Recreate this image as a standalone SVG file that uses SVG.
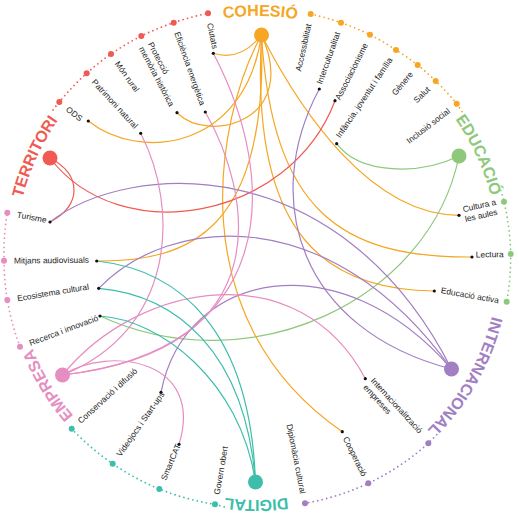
<svg xmlns="http://www.w3.org/2000/svg" xmlns:xlink="http://www.w3.org/1999/xlink" width="519" height="516" viewBox="0 0 519 516">
<style>
.lbl{font-family:"Liberation Sans",Arial,sans-serif;font-size:8.4px;fill:#222}
.cat{font-family:"Liberation Sans",Arial,sans-serif;font-size:16px;font-weight:bold}
.c{fill:none;stroke-width:1.2}
.dots{fill:none;stroke-width:1.8;stroke-linecap:round;stroke-dasharray:0 4.6}
.pin{fill:#111}
.or{stroke:#F6A623}.rd{stroke:#EF5B52}.gr{stroke:#8DC87B}.pu{stroke:#A27EC2}.te{stroke:#3DBEAB}.pk{stroke:#E68DC1}
.for{fill:#F6A623}.frd{fill:#EF5B52}.fgr{fill:#8DC87B}.fpu{fill:#A27EC2}.fte{fill:#3DBEAB}.fpk{fill:#E68DC1}
</style>
<defs>
<path id="ring" d="M136,467.58 A242,242 0 0 1 378,48.42 A242,242 0 0 1 136,467.58"/>
</defs>
<rect width="519" height="516" fill="#fff"/>

<g id="rings">
<path class="dots rd" d="M53.1,109.9 A251,251 0 0 1 59.3,102 A251,251 0 0 1 86.7,73.3 A251,251 0 0 1 111,54 A251,251 0 0 1 141.3,36 A251,251 0 0 1 173.7,22.7 A251,251 0 0 1 208,13.3"/>
<path class="dots or" d="M310.7,14 A251,251 0 0 1 341,22.7 A251,251 0 0 1 370,34.7 A251,251 0 0 1 396,50 A251,251 0 0 1 417.7,65 A251,251 0 0 1 435.7,81 A251,251 0 0 1 456.7,103.7 A251,251 0 0 1 462.1,111.7"/>
<path class="dots gr" d="M500.8,190.4 A253,253 0 0 1 504,201.7 A253,253 0 0 1 510.7,254 A253,253 0 0 1 506.7,301.7"/>
<path class="dots pu" d="M436.7,434.6 A252,252 0 0 1 428.3,443.3 A252,252 0 0 1 368.3,483.3 A252,252 0 0 1 305,503.3"/>
<path class="dots te" d="M224.2,506.9 A251,251 0 0 1 215,504.3 A251,251 0 0 1 159.3,489 A251,251 0 0 1 112.7,463.7 A251,251 0 0 1 71.7,428.7"/>
<path class="dots pk" d="M20,346.7 A253,253 0 0 1 7.3,300 A253,253 0 0 1 4,260.7 A253,253 0 0 1 7.3,212.7"/>
</g>

<g id="connectors">
<path class="c or" d="M213.3,53.3 Q240,62 261.5,35"/>
<path class="c or" d="M88.3,121 C140,162 245,150 261.5,35"/>
<path class="c or" d="M177,112.7 C210,145 300,120 261.5,35"/>
<path class="c or" d="M96.7,261 C190,262 268,230 261.5,35"/>
<path class="c or" d="M261.5,35 C215,120 180,320 342.3,431.7"/>
<path class="c or" d="M261.5,35 C300,110 370,215 459,215.3"/>
<path class="c or" d="M261.5,35 C272,210 340,258 472,257"/>
<path class="c or" d="M261.5,35 C250,240 330,290 434.3,291"/>
<path class="c rd" d="M50,158 C82,175 82,205 50,222"/>
<path class="c rd" d="M50,158 C120,250 290,220 335,100.7"/>
<path class="c gr" d="M336.7,143.7 C360,175 420,175 459,156"/>
<path class="c gr" d="M459,156 C430,300 250,385 100,316"/>
<path class="c pu" d="M50,222 C130,160 340,150 451.5,369"/>
<path class="c pu" d="M319.3,89 C260,200 300,330 451.5,369"/>
<path class="c pu" d="M98.7,288.3 C170,215 330,200 451.5,369"/>
<path class="c pu" d="M161,392.3 C185,270 340,240 451.5,369"/>
<path class="c pk" d="M140.7,133.3 C180,210 175,330 62.5,375"/>
<path class="c pk" d="M205.3,112 C250,190 285,350 62.5,375"/>
<path class="c pk" d="M213.3,53.3 C280,180 280,350 62.5,375"/>
<path class="c pk" d="M62.5,375 C140,280 300,255 365.3,378.7"/>
<path class="c pk" d="M62.5,375 C110,345 205,360 179,444.3"/>
<path class="c te" d="M96.7,261 C180,270 250,330 255.5,482"/>
<path class="c te" d="M98.7,288.3 C175,295 245,350 255.5,482"/>
<path class="c te" d="M100,316 C160,320 240,380 255.5,482"/>
</g>

<g id="cohesio"><circle class="for" cx="261.5" cy="35" r="7.5"/><text class="cat for"><textPath xlink:href="#ring" href="#ring" startOffset="636.5" text-anchor="middle">COHESIÓ</textPath></text></g>
<g id="territori"><circle class="frd" cx="50" cy="158" r="7.5"/><text class="cat frd"><textPath xlink:href="#ring" href="#ring" startOffset="356.9" text-anchor="middle">TERRITORI</textPath></text></g>
<g id="educacio"><circle class="fgr" cx="459" cy="156" r="7.5"/><text class="cat fgr"><textPath xlink:href="#ring" href="#ring" startOffset="908" text-anchor="middle">EDUCACIÓ</textPath></text></g>
<g id="internacional"><circle class="fpu" cx="451.5" cy="369" r="7.5"/><text class="cat fpu"><textPath xlink:href="#ring" href="#ring" startOffset="1138.3" text-anchor="middle">INTERNACIONAL</textPath></text></g>
<g id="digital"><circle class="fte" cx="255.5" cy="482" r="7.5"/><text class="cat fte"><textPath xlink:href="#ring" href="#ring" startOffset="1393.8" text-anchor="middle">DIGITAL</textPath></text></g>
<g id="empresa"><circle class="fpk" cx="62.5" cy="375" r="7.5"/><text class="cat fpk"><textPath xlink:href="#ring" href="#ring" startOffset="121.2" text-anchor="middle">EMPRESA</textPath></text></g>

<g id="ciutats"><circle class="frd" cx="208" cy="13.3" r="3"/><circle class="pin" cx="213.3" cy="53.3" r="1.6"/><text class="lbl" transform="translate(210,23.1) rotate(78.7)" dy="0.35em">Ciutats</text></g>
<g id="eficiencia"><circle class="frd" cx="173.7" cy="22.7" r="3"/><circle class="pin" cx="205.3" cy="112" r="1.6"/><text class="lbl" transform="translate(177,32.1) rotate(70.5)" dy="0.35em">Eficiència energètica</text></g>
<g id="proteccio"><circle class="frd" cx="141.3" cy="36" r="3"/><circle class="pin" cx="177" cy="112.7" r="1.6"/><text class="lbl" transform="translate(145.9,44.9) rotate(62.5)"><tspan x="0" dy="-0.25em">Protecció</tspan><tspan x="0" dy="1.2em">memòria històrica</tspan></text></g>
<g id="mon-rural"><circle class="frd" cx="111" cy="54" r="3"/><text class="lbl" transform="translate(116.8,62.1) rotate(54.4)" dy="0.35em">Món rural</text></g>
<g id="patrimoni"><circle class="frd" cx="86.7" cy="73.3" r="3"/><circle class="pin" cx="140.7" cy="133.3" r="1.6"/><text class="lbl" transform="translate(93.5,80.6) rotate(47.3)" dy="0.35em">Patrimoni natural</text></g>
<g id="ods"><circle class="frd" cx="59.3" cy="102" r="3"/><circle class="pin" cx="88.3" cy="121" r="1.6"/><text class="lbl" transform="translate(67.1,108.2) rotate(38.3)" dy="0.35em">ODS</text></g>

<g id="accessibilitat"><circle class="for" cx="310.7" cy="14" r="3"/><text class="lbl" text-anchor="end" transform="translate(308.6,23.8) rotate(-77.6)" dy="0.35em">Accessibilitat</text></g>
<g id="interculturalitat"><circle class="for" cx="341" cy="22.7" r="3"/><circle class="pin" cx="319.3" cy="89" r="1.6"/><text class="lbl" text-anchor="end" transform="translate(337.6,32.1) rotate(-70.3)" dy="0.35em">Interculturalitat</text></g>
<g id="associacionisme"><circle class="for" cx="370" cy="34.7" r="3"/><circle class="pin" cx="335" cy="100.7" r="1.6"/><text class="lbl" text-anchor="end" transform="translate(365.5,43.6) rotate(-63.2)" dy="0.35em">Associacionisme</text></g>
<g id="infancia"><circle class="for" cx="396" cy="50" r="3"/><circle class="pin" cx="336.7" cy="143.7" r="1.6"/><text class="lbl" text-anchor="end" transform="translate(390.4,58.3) rotate(-56.2)" dy="0.35em">Infància, joventut i família</text></g>
<g id="genere"><circle class="for" cx="417.7" cy="65" r="3"/><text class="lbl" text-anchor="end" transform="translate(411.3,72.7) rotate(-50.2)" dy="0.35em">Gènere</text></g>
<g id="salut"><circle class="for" cx="435.7" cy="81" r="3"/><text class="lbl" text-anchor="end" transform="translate(428.6,88) rotate(-44.7)" dy="0.35em">Salut</text></g>
<g id="inclusio"><circle class="for" cx="456.7" cy="103.7" r="3"/><text class="lbl" text-anchor="end" transform="translate(448.8,109.8) rotate(-37.7)" dy="0.35em">Inclusió social</text></g>

<g id="cultura-aules"><circle class="fgr" cx="504" cy="201.7" r="3"/><circle class="pin" cx="459" cy="215.3" r="1.6"/><text class="lbl" transform="translate(463.9,214.2) rotate(-12.8)"><tspan x="0" dy="-0.25em">Cultura a</tspan><tspan x="0" dy="1.2em">les aules</tspan></text></g>
<g id="lectura"><circle class="fgr" cx="510.7" cy="254" r="3"/><circle class="pin" cx="472" cy="257" r="1.6"/><text class="lbl" text-anchor="end" transform="translate(503.7,254.1) rotate(-0.9)" dy="0.35em">Lectura</text></g>
<g id="educacio-activa"><circle class="fgr" cx="506.7" cy="301.7" r="3"/><circle class="pin" cx="434.3" cy="291" r="1.6"/><text class="lbl" text-anchor="end" transform="translate(498.8,300.3) rotate(9.9)" dy="0.35em">Educació activa</text></g>

<g id="internacionalitzacio"><circle class="fpu" cx="428.3" cy="443.3" r="3"/><circle class="pin" cx="365.3" cy="378.7" r="1.6"/><text class="lbl" transform="translate(368.7,382.4) rotate(47.5)"><tspan x="0" dy="-0.25em">Internacionalització</tspan><tspan x="0" dy="1.2em">empreses</tspan></text></g>
<g id="cooperacio"><circle class="fpu" cx="368.3" cy="483.3" r="3"/><circle class="pin" cx="342.3" cy="431.7" r="1.6"/><text class="lbl" text-anchor="end" transform="translate(364.5,475.7) rotate(63.7)" dy="0.35em">Cooperació</text></g>
<g id="diplomacia"><circle class="fpu" cx="305" cy="503.3" r="3"/><text class="lbl" text-anchor="end" transform="translate(303.1,493.5) rotate(78.9)" dy="0.35em">Diplomàcia cultural</text></g>

<g id="govern"><circle class="fte" cx="215" cy="504.3" r="3"/><text class="lbl" transform="translate(216.7,494.4) rotate(-80.3)" dy="0.35em">Govern obert</text></g>
<g id="smartcat"><circle class="fte" cx="159.3" cy="489" r="3"/><circle class="pin" cx="179" cy="444.3" r="1.6"/><text class="lbl" transform="translate(163.2,479.8) rotate(-67.1)" dy="0.35em">SmartCAT</text></g>
<g id="videojocs"><circle class="fte" cx="112.7" cy="463.7" r="3"/><circle class="pin" cx="161" cy="392.3" r="1.6"/><text class="lbl" transform="translate(118.4,455.5) rotate(-55)" dy="0.35em">Videojocs i Start-ups</text></g>
<g id="conservacio"><circle class="fte" cx="71.7" cy="428.7" r="3"/><text class="lbl" transform="translate(79.1,421.9) rotate(-42.6)" dy="0.35em">Conservació i difusió</text></g>

<g id="recerca"><circle class="fpk" cx="20" cy="346.7" r="3"/><circle class="pin" cx="100" cy="316" r="1.6"/><text class="lbl" transform="translate(29.4,343.2) rotate(-20.5)" dy="0.35em">Recerca i innovació</text></g>
<g id="ecosistema"><circle class="fpk" cx="7.3" cy="300" r="3"/><circle class="pin" cx="98.7" cy="288.3" r="1.6"/><text class="lbl" transform="translate(17.2,298.4) rotate(-9.5)" dy="0.35em">Ecosistema cultural</text></g>
<g id="mitjans"><circle class="fpk" cx="4" cy="260.7" r="3"/><circle class="pin" cx="96.7" cy="261" r="1.6"/><text class="lbl" transform="translate(14,260.6) rotate(-0.6)" dy="0.35em">Mitjans audiovisuals</text></g>
<g id="turisme"><circle class="fpk" cx="7.3" cy="212.7" r="3"/><circle class="pin" cx="50" cy="222" r="1.6"/><text class="lbl" transform="translate(17.1,214.5) rotate(10.3)" dy="0.35em">Turisme</text></g>
</svg>
